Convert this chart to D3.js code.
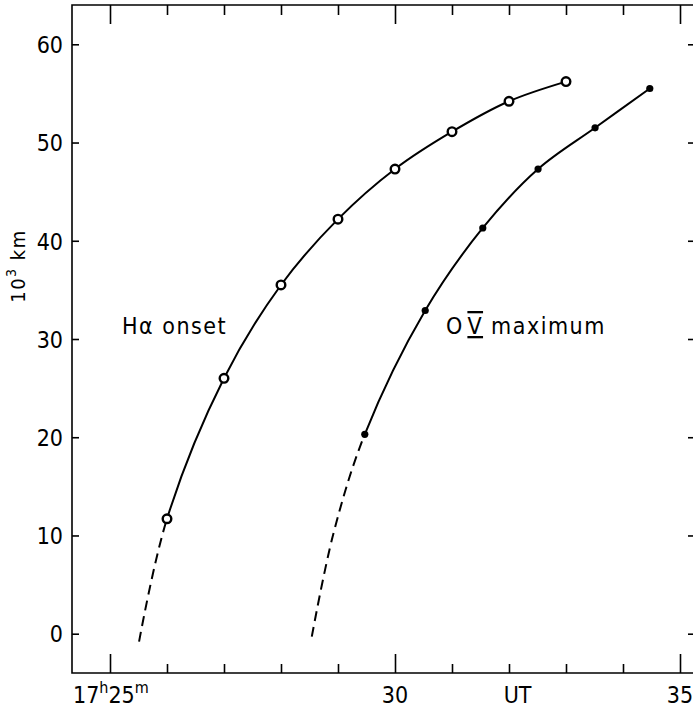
<!DOCTYPE html>
<html>
<head>
<meta charset="utf-8">
<script src="https://cdn.jsdelivr.net/npm/d3@7"></script>
<style>
body { margin: 0; background: #fff; }
text { font-family: "DejaVu Sans Condensed", "DejaVu Sans", sans-serif; font-stretch: condensed; fill: #000; }
</style>
</head>
<body>
<svg id="chart" width="693" height="712"></svg>
<script>
// time in minutes after 17h UT, height in 10^3 km
var haTime = [26, 27, 28, 29, 30, 31, 32, 33];
var haHeight = [11.7, 26.0, 35.5, 42.2, 47.3, 51.1, 54.2, 56.2];
var haDashTime = [25.51];
var haDashHeight = [-0.8];

var ovTime = [29.47, 30.53, 31.54, 32.51, 33.51, 34.47];
var ovHeight = [20.3, 32.9, 41.3, 47.3, 51.5, 55.5];
var ovDashTime = [28.54, 28.92];
var ovDashHeight = [-0.3, 10.2];

var yTicks = [0, 10, 20, 30, 40, 50, 60];
var xMajor = [25, 30, 35];
var xMinor = [26, 27, 28, 29, 31, 32, 33, 34];
var xLabelAt = [30, 32.15, 35];
var xLabelText = ["30", "UT", "35"];

var svg = d3.select("#chart");
var plotL = 72, plotR = 693, plotT = 5, plotB = 673;

var x = d3.scaleLinear().domain([25, 35]).range([110, 680]);
var y = d3.scaleLinear().domain([-4, 64]).range([plotB, plotT]);

function zip(a, b) { return a.map(function(d, i) { return [d, b[i]]; }); }

// frame (no right line)
svg.append("path")
    .attr("d", "M" + plotR + "," + plotT + "H" + plotL + "V" + plotB + "H" + plotR)
    .attr("fill", "none").attr("stroke", "#000").attr("stroke-width", 1.6);

function ticks(g) {
    g.select(".domain").remove();
    g.selectAll("line").attr("stroke-width", 1.6);
}

svg.append("g").attr("transform", "translate(0," + plotB + ")")
    .call(d3.axisBottom(x).tickValues(xMajor).tickSize(-19).tickFormat("")).call(ticks);
svg.append("g").attr("transform", "translate(0," + plotB + ")")
    .call(d3.axisBottom(x).tickValues(xMinor).tickSize(-9).tickFormat("")).call(ticks);
svg.append("g").attr("transform", "translate(0," + plotT + ")")
    .call(d3.axisTop(x).tickValues(xMajor).tickSize(-19).tickFormat("")).call(ticks);
svg.append("g").attr("transform", "translate(0," + plotT + ")")
    .call(d3.axisTop(x).tickValues(xMinor).tickSize(-10).tickFormat("")).call(ticks);

var yAxis = svg.append("g").attr("transform", "translate(" + plotL + ",0)")
    .call(d3.axisLeft(y).tickValues(yTicks).tickSize(-7).tickPadding(9).tickFormat(d3.format("d")))
    .call(ticks);
yAxis.selectAll("text").attr("font-size", 23).attr("font-family", null).attr("dy", "0.36em");

svg.append("g").attr("transform", "translate(" + plotR + ",0)")
    .call(d3.axisRight(y).tickValues(yTicks).tickSize(-5).tickFormat("")).call(ticks);

// x labels
svg.selectAll(".xl").data(xLabelAt).enter().append("text")
    .attr("class", "xl")
    .attr("x", function(d) { return x(d); })
    .attr("y", 703)
    .attr("text-anchor", "middle")
    .attr("font-size", 23)
    .text(function(d, i) { return xLabelText[i]; });

var first = svg.append("text").attr("x", 73).attr("y", 703).attr("font-size", 23);
first.append("tspan").text("17");
first.append("tspan").attr("font-size", 16).attr("dy", -10).text("h");
first.append("tspan").attr("dy", 10).text("25");
first.append("tspan").attr("font-size", 16).attr("dy", -10).text("m");

// y title
var yt = svg.append("text")
    .attr("transform", "translate(25,266) rotate(-90)")
    .attr("text-anchor", "middle")
    .attr("font-size", 20)
    .attr("letter-spacing", 1.5);
yt.append("tspan").text("10");
yt.append("tspan").attr("font-size", 14).attr("dy", -9).text("3");
yt.append("tspan").attr("dy", 9).text(" km");

// curves: one smooth spline per series, dashed below the first observed point
var line = d3.line()
    .x(function(d) { return x(d[0]); })
    .y(function(d) { return y(d[1]); })
    .curve(d3.curveCatmullRom.alpha(0.5));

var defs = svg.append("defs");
[[haTime, haHeight, haDashTime, haDashHeight], [ovTime, ovHeight, ovDashTime, ovDashHeight]].forEach(function(s, i) {
    var pts = zip(s[2], s[3]).concat(zip(s[0], s[1]));
    var cut = y(s[1][0]);
    defs.append("clipPath").attr("id", "lo" + i).append("rect")
        .attr("x", 0).attr("y", cut).attr("width", 693).attr("height", 712);
    defs.append("clipPath").attr("id", "hi" + i).append("rect")
        .attr("x", 0).attr("y", 0).attr("width", 693).attr("height", cut);
    svg.append("path").attr("d", line(pts)).attr("clip-path", "url(#lo" + i + ")")
        .attr("fill", "none").attr("stroke", "#000").attr("stroke-width", 2)
        .attr("stroke-dasharray", "10,6");
    svg.append("path").attr("d", line(pts)).attr("clip-path", "url(#hi" + i + ")")
        .attr("fill", "none").attr("stroke", "#000").attr("stroke-width", 2);
});

svg.selectAll(".ha").data(zip(haTime, haHeight)).enter().append("circle")
    .attr("class", "ha")
    .attr("cx", function(d) { return x(d[0]); })
    .attr("cy", function(d) { return y(d[1]); })
    .attr("r", 4.3).attr("fill", "#fff").attr("stroke", "#000").attr("stroke-width", 2.4);

svg.selectAll(".ov").data(zip(ovTime, ovHeight)).enter().append("circle")
    .attr("class", "ov")
    .attr("cx", function(d) { return x(d[0]); })
    .attr("cy", function(d) { return y(d[1]); })
    .attr("r", 3.6).attr("fill", "#000");

// series labels
svg.append("text").attr("x", 122).attr("y", 334).attr("font-size", 23)
    .attr("letter-spacing", 1.5).text("Hα onset");

var ov = svg.append("text").attr("x", 446).attr("y", 334).attr("font-size", 23).attr("letter-spacing", 1.5);
ov.append("tspan").text("O");
ov.append("tspan").attr("dx", 4).style("text-decoration", "underline overline").text("V");
ov.append("tspan").attr("dx", 8).text("maximum");
</script>
</body>
</html>
